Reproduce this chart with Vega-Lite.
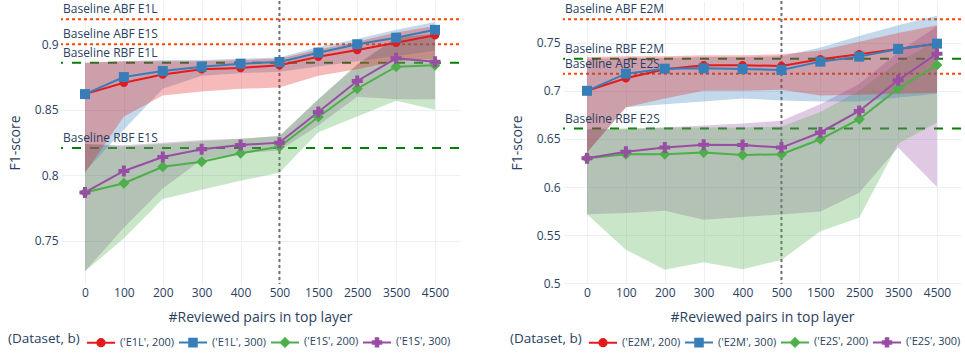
{
  "$schema": "https://vega.github.io/schema/vega-lite/v6.json",
  "background": "white",
  "padding": {"left": 8, "top": 0, "right": 0, "bottom": 0},
  "autosize": {"type": "pad"},
  "config": {
    "view": {"stroke": null},
    "font": "Open Sans",
    "axis": {
      "domain": false,
      "ticks": false,
      "grid": true,
      "gridColor": "#EBF0F8",
      "gridWidth": 1,
      "labelFont": "Open Sans",
      "labelFontSize": 12,
      "labelColor": "#2a3f5f",
      "titleFont": "Open Sans",
      "titleFontSize": 14,
      "titleFontWeight": "normal",
      "titleColor": "#2a3f5f"
    },
    "axisY": {"labelPadding": 3, "titlePadding": 12},
    "axisX": {"labelPadding": 3, "titlePadding": 12, "labelAngle": 0}
  },
  "datasets": {
    "series": [
      {"panel": "L", "s": "('E1L', 200)", "x": "0", "y": 0.862, "lo": 0.802, "hi": 0.886},
      {"panel": "L", "s": "('E1L', 200)", "x": "100", "y": 0.8707, "lo": 0.845, "hi": 0.887},
      {"panel": "L", "s": "('E1L', 200)", "x": "200", "y": 0.877, "lo": 0.861, "hi": 0.887},
      {"panel": "L", "s": "('E1L', 200)", "x": "300", "y": 0.881, "lo": 0.864, "hi": 0.887},
      {"panel": "L", "s": "('E1L', 200)", "x": "400", "y": 0.882, "lo": 0.866, "hi": 0.888},
      {"panel": "L", "s": "('E1L', 200)", "x": "500", "y": 0.884, "lo": 0.867, "hi": 0.889},
      {"panel": "L", "s": "('E1L', 200)", "x": "1500", "y": 0.8905, "lo": 0.876, "hi": 0.896},
      {"panel": "L", "s": "('E1L', 200)", "x": "2500", "y": 0.8957, "lo": 0.881, "hi": 0.902},
      {"panel": "L", "s": "('E1L', 200)", "x": "3500", "y": 0.9012, "lo": 0.887, "hi": 0.909},
      {"panel": "L", "s": "('E1L', 200)", "x": "4500", "y": 0.9069, "lo": 0.889, "hi": 0.914},
      {"panel": "L", "s": "('E1L', 300)", "x": "0", "y": 0.862, "lo": 0.803, "hi": 0.886},
      {"panel": "L", "s": "('E1L', 300)", "x": "100", "y": 0.875, "lo": 0.835, "hi": 0.887},
      {"panel": "L", "s": "('E1L', 300)", "x": "200", "y": 0.8796, "lo": 0.866, "hi": 0.888},
      {"panel": "L", "s": "('E1L', 300)", "x": "300", "y": 0.8829, "lo": 0.876, "hi": 0.888},
      {"panel": "L", "s": "('E1L', 300)", "x": "400", "y": 0.8852, "lo": 0.878, "hi": 0.889},
      {"panel": "L", "s": "('E1L', 300)", "x": "500", "y": 0.8865, "lo": 0.879, "hi": 0.89},
      {"panel": "L", "s": "('E1L', 300)", "x": "1500", "y": 0.8936, "lo": 0.883, "hi": 0.898},
      {"panel": "L", "s": "('E1L', 300)", "x": "2500", "y": 0.9, "lo": 0.887, "hi": 0.904},
      {"panel": "L", "s": "('E1L', 300)", "x": "3500", "y": 0.905, "lo": 0.891, "hi": 0.911},
      {"panel": "L", "s": "('E1L', 300)", "x": "4500", "y": 0.911, "lo": 0.895, "hi": 0.917},
      {"panel": "L", "s": "('E1S', 200)", "x": "0", "y": 0.787, "lo": 0.727, "hi": 0.824},
      {"panel": "L", "s": "('E1S', 200)", "x": "100", "y": 0.794, "lo": 0.752, "hi": 0.822},
      {"panel": "L", "s": "('E1S', 200)", "x": "200", "y": 0.8066, "lo": 0.782, "hi": 0.824},
      {"panel": "L", "s": "('E1S', 200)", "x": "300", "y": 0.8105, "lo": 0.789, "hi": 0.826},
      {"panel": "L", "s": "('E1S', 200)", "x": "400", "y": 0.8169, "lo": 0.796, "hi": 0.828},
      {"panel": "L", "s": "('E1S', 200)", "x": "500", "y": 0.8219, "lo": 0.802, "hi": 0.83},
      {"panel": "L", "s": "('E1S', 200)", "x": "1500", "y": 0.8445, "lo": 0.833, "hi": 0.858},
      {"panel": "L", "s": "('E1S', 200)", "x": "2500", "y": 0.8661, "lo": 0.845, "hi": 0.885},
      {"panel": "L", "s": "('E1S', 200)", "x": "3500", "y": 0.8829, "lo": 0.857, "hi": 0.905},
      {"panel": "L", "s": "('E1S', 200)", "x": "4500", "y": 0.884, "lo": 0.85, "hi": 0.908},
      {"panel": "L", "s": "('E1S', 300)", "x": "0", "y": 0.787, "lo": 0.727, "hi": 0.824},
      {"panel": "L", "s": "('E1S', 300)", "x": "100", "y": 0.8034, "lo": 0.76, "hi": 0.823},
      {"panel": "L", "s": "('E1S', 300)", "x": "200", "y": 0.814, "lo": 0.79, "hi": 0.825},
      {"panel": "L", "s": "('E1S', 300)", "x": "300", "y": 0.82, "lo": 0.812, "hi": 0.827},
      {"panel": "L", "s": "('E1S', 300)", "x": "400", "y": 0.8232, "lo": 0.817, "hi": 0.828},
      {"panel": "L", "s": "('E1S', 300)", "x": "500", "y": 0.825, "lo": 0.819, "hi": 0.83},
      {"panel": "L", "s": "('E1S', 300)", "x": "1500", "y": 0.8484, "lo": 0.838, "hi": 0.858},
      {"panel": "L", "s": "('E1S', 300)", "x": "2500", "y": 0.872, "lo": 0.86, "hi": 0.884},
      {"panel": "L", "s": "('E1S', 300)", "x": "3500", "y": 0.8893, "lo": 0.858, "hi": 0.905},
      {"panel": "L", "s": "('E1S', 300)", "x": "4500", "y": 0.8867, "lo": 0.858, "hi": 0.908},
      {"panel": "R", "s": "('E2M', 200)", "x": "0", "y": 0.7, "lo": 0.636, "hi": 0.735},
      {"panel": "R", "s": "('E2M', 200)", "x": "100", "y": 0.713, "lo": 0.683, "hi": 0.736},
      {"panel": "R", "s": "('E2M', 200)", "x": "200", "y": 0.7224, "lo": 0.692, "hi": 0.736},
      {"panel": "R", "s": "('E2M', 200)", "x": "300", "y": 0.7266, "lo": 0.7, "hi": 0.737},
      {"panel": "R", "s": "('E2M', 200)", "x": "400", "y": 0.7266, "lo": 0.7, "hi": 0.737},
      {"panel": "R", "s": "('E2M', 200)", "x": "500", "y": 0.7258, "lo": 0.701, "hi": 0.738},
      {"panel": "R", "s": "('E2M', 200)", "x": "1500", "y": 0.7328, "lo": 0.695, "hi": 0.742},
      {"panel": "R", "s": "('E2M', 200)", "x": "2500", "y": 0.738, "lo": 0.696, "hi": 0.751},
      {"panel": "R", "s": "('E2M', 200)", "x": "3500", "y": 0.7435, "lo": 0.697, "hi": 0.76},
      {"panel": "R", "s": "('E2M', 200)", "x": "4500", "y": 0.749, "lo": 0.698, "hi": 0.768},
      {"panel": "R", "s": "('E2M', 300)", "x": "0", "y": 0.7, "lo": 0.636, "hi": 0.733},
      {"panel": "R", "s": "('E2M', 300)", "x": "100", "y": 0.7178, "lo": 0.683, "hi": 0.734},
      {"panel": "R", "s": "('E2M', 300)", "x": "200", "y": 0.723, "lo": 0.686, "hi": 0.734},
      {"panel": "R", "s": "('E2M', 300)", "x": "300", "y": 0.7234, "lo": 0.689, "hi": 0.735},
      {"panel": "R", "s": "('E2M', 300)", "x": "400", "y": 0.7227, "lo": 0.692, "hi": 0.735},
      {"panel": "R", "s": "('E2M', 300)", "x": "500", "y": 0.7217, "lo": 0.69, "hi": 0.736},
      {"panel": "R", "s": "('E2M', 300)", "x": "1500", "y": 0.7303, "lo": 0.689, "hi": 0.745},
      {"panel": "R", "s": "('E2M', 300)", "x": "2500", "y": 0.7355, "lo": 0.689, "hi": 0.757},
      {"panel": "R", "s": "('E2M', 300)", "x": "3500", "y": 0.7435, "lo": 0.693, "hi": 0.768},
      {"panel": "R", "s": "('E2M', 300)", "x": "4500", "y": 0.749, "lo": 0.697, "hi": 0.778},
      {"panel": "R", "s": "('E2S', 200)", "x": "0", "y": 0.63, "lo": 0.5717, "hi": 0.66},
      {"panel": "R", "s": "('E2S', 200)", "x": "100", "y": 0.6342, "lo": 0.535, "hi": 0.661},
      {"panel": "R", "s": "('E2S', 200)", "x": "200", "y": 0.6342, "lo": 0.514, "hi": 0.662},
      {"panel": "R", "s": "('E2S', 200)", "x": "300", "y": 0.636, "lo": 0.522, "hi": 0.662},
      {"panel": "R", "s": "('E2S', 200)", "x": "400", "y": 0.6332, "lo": 0.5146, "hi": 0.662},
      {"panel": "R", "s": "('E2S', 200)", "x": "500", "y": 0.6342, "lo": 0.5243, "hi": 0.663},
      {"panel": "R", "s": "('E2S', 200)", "x": "1500", "y": 0.6497, "lo": 0.554, "hi": 0.678},
      {"panel": "R", "s": "('E2S', 200)", "x": "2500", "y": 0.6705, "lo": 0.568, "hi": 0.7},
      {"panel": "R", "s": "('E2S', 200)", "x": "3500", "y": 0.7023, "lo": 0.645, "hi": 0.73},
      {"panel": "R", "s": "('E2S', 200)", "x": "4500", "y": 0.7269, "lo": 0.667, "hi": 0.752},
      {"panel": "R", "s": "('E2S', 300)", "x": "0", "y": 0.63, "lo": 0.5717, "hi": 0.66},
      {"panel": "R", "s": "('E2S', 300)", "x": "100", "y": 0.6366, "lo": 0.573, "hi": 0.66},
      {"panel": "R", "s": "('E2S', 300)", "x": "200", "y": 0.641, "lo": 0.5754, "hi": 0.662},
      {"panel": "R", "s": "('E2S', 300)", "x": "300", "y": 0.6439, "lo": 0.566, "hi": 0.664},
      {"panel": "R", "s": "('E2S', 300)", "x": "400", "y": 0.6436, "lo": 0.5688, "hi": 0.666},
      {"panel": "R", "s": "('E2S', 300)", "x": "500", "y": 0.641, "lo": 0.5716, "hi": 0.669},
      {"panel": "R", "s": "('E2S', 300)", "x": "1500", "y": 0.6567, "lo": 0.5747, "hi": 0.686},
      {"panel": "R", "s": "('E2S', 300)", "x": "2500", "y": 0.6791, "lo": 0.594, "hi": 0.707},
      {"panel": "R", "s": "('E2S', 300)", "x": "3500", "y": 0.711, "lo": 0.641, "hi": 0.74},
      {"panel": "R", "s": "('E2S', 300)", "x": "4500", "y": 0.7386, "lo": 0.6, "hi": 0.767}
    ],
    "baselines": [
      {"panel": "L", "kind": "ABF", "label": "Baseline ABF E1L", "value": 0.919},
      {"panel": "L", "kind": "ABF", "label": "Baseline ABF E1S", "value": 0.9},
      {"panel": "L", "kind": "RBF", "label": "Baseline RBF E1L", "value": 0.886},
      {"panel": "L", "kind": "RBF", "label": "Baseline RBF E1S", "value": 0.821},
      {"panel": "R", "kind": "ABF", "label": "Baseline ABF E2M", "value": 0.7743},
      {"panel": "R", "kind": "RBF", "label": "Baseline RBF E2M", "value": 0.7334},
      {"panel": "R", "kind": "ABF", "label": "Baseline ABF E2S", "value": 0.7178},
      {"panel": "R", "kind": "RBF", "label": "Baseline RBF E2S", "value": 0.6608}
    ],
    "cutoff": [{"x": "500"}]
  },
  "bounds": "flush",
  "spacing": 104,
  "resolve": {
    "scale": {"x": "independent", "y": "independent", "color": "independent", "shape": "independent"},
    "legend": {"color": "independent"}
  },
  "hconcat": [
    {
      "width": 398,
      "height": 283,
      "layer": [
        {
          "data": {"name": "baselines"},
          "transform": [{"filter": "datum.panel == 'L' && datum.kind == 'ABF'"}],
          "mark": {"type": "rule", "color": "#FF4500", "strokeWidth": 2, "strokeDash": [3, 3]},
          "encoding": {"y": {"field": "value", "type": "quantitative", "scale": {"domain": [0.7172, 0.933], "nice": false, "zero": false}, "axis": {"title": "F1-score", "values": [0.75, 0.8, 0.85, 0.9], "format": ".2~f"}}}
        },
        {
          "data": {"name": "baselines"},
          "transform": [{"filter": "datum.panel == 'L' && datum.kind == 'RBF'"}],
          "mark": {"type": "rule", "color": "#008000", "strokeWidth": 2, "strokeDash": [9, 9]},
          "encoding": {"y": {"field": "value", "type": "quantitative"}}
        },
        {
          "data": {"name": "cutoff"},
          "mark": {"type": "rule", "color": "#707070", "strokeWidth": 2, "strokeDash": [3, 3]},
          "encoding": {
            "x": {"field": "x", "type": "ordinal", "scale": {"type": "point", "domain": ["0", "100", "200", "300", "400", "500", "1500", "2500", "3500", "4500"], "padding": 0.617}, "axis": {"title": "#Reviewed pairs in top layer"}}
          }
        },
        {
          "data": {"name": "series"},
          "transform": [{"filter": "datum.panel == 'L' && datum.s == \"('E1S', 300)\""}],
          "mark": {"type": "area", "opacity": 0.3},
          "encoding": {
            "x": {"field": "x", "type": "ordinal"},
            "y": {"field": "lo", "type": "quantitative", "stack": null},
            "y2": {"field": "hi"},
            "color": {"field": "s", "type": "nominal", "scale": {"domain": ["('E1L', 200)", "('E1L', 300)", "('E1S', 200)", "('E1S', 300)"], "range": ["#e41a1c", "#377eb8", "#4daf4a", "#984ea3"]}}
          }
        },
        {
          "data": {"name": "series"},
          "transform": [{"filter": "datum.panel == 'L' && datum.s == \"('E1S', 200)\""}],
          "mark": {"type": "area", "opacity": 0.3},
          "encoding": {
            "x": {"field": "x", "type": "ordinal"},
            "y": {"field": "lo", "type": "quantitative", "stack": null},
            "y2": {"field": "hi"},
            "color": {"field": "s", "type": "nominal"}
          }
        },
        {
          "data": {"name": "series"},
          "transform": [{"filter": "datum.panel == 'L' && datum.s == \"('E1L', 300)\""}],
          "mark": {"type": "area", "opacity": 0.3},
          "encoding": {
            "x": {"field": "x", "type": "ordinal"},
            "y": {"field": "lo", "type": "quantitative", "stack": null},
            "y2": {"field": "hi"},
            "color": {"field": "s", "type": "nominal"}
          }
        },
        {
          "data": {"name": "series"},
          "transform": [{"filter": "datum.panel == 'L' && datum.s == \"('E1L', 200)\""}],
          "mark": {"type": "area", "opacity": 0.3},
          "encoding": {
            "x": {"field": "x", "type": "ordinal"},
            "y": {"field": "lo", "type": "quantitative", "stack": null},
            "y2": {"field": "hi"},
            "color": {"field": "s", "type": "nominal"}
          }
        },
        {
          "data": {"name": "series"},
          "transform": [{"filter": "datum.panel == 'L'"}],
          "mark": {"type": "line", "strokeWidth": 2},
          "encoding": {
            "x": {"field": "x", "type": "ordinal"},
            "y": {"field": "y", "type": "quantitative"},
            "color": {"field": "s", "type": "nominal"}
          }
        },
        {
          "data": {"name": "series"},
          "transform": [{"filter": "datum.panel == 'L'"}],
          "mark": {"type": "point", "filled": true, "opacity": 1, "size": 100, "strokeWidth": 0},
          "encoding": {
            "x": {"field": "x", "type": "ordinal"},
            "y": {"field": "y", "type": "quantitative"},
            "shape": {"field": "s", "type": "nominal", "legend": null, "scale": {"range": [
              "M0.85,0A0.85,0.85,0,1,1,-0.85,0A0.85,0.85,0,1,1,0.85,0Z",
              "M-1,-1H1V1H-1Z",
              "M0,-1.1L1.1,0L0,1.1L-1.1,0Z",
              "M-0.4,-1.1H0.4V-0.4H1.1V0.4H0.4V1.1H-0.4V0.4H-1.1V-0.4H-0.4Z"
            ]}},
            "color": {"field": "s", "type": "nominal", "legend": {
              "title": "(Dataset, b)",
              "orient": "none",
              "legendX": -53,
              "legendY": 326,
              "direction": "horizontal",
              "columns": 4,
              "titleOrient": "left",
              "titleAnchor": "middle",
              "titleBaseline": "middle",
              "titlePadding": 6,
              "titleFont": "Open Sans",
              "titleFontSize": 13.5,
              "titleFontWeight": "normal",
              "titleColor": "#2a3f5f",
              "labelFont": "Open Sans",
              "labelFontSize": 11,
              "labelColor": "#2a3f5f",
              "labelOffset": 4,
              "columnPadding": 0,
              "symbolSize": 784,
              "symbolStrokeWidth": 2,
              "symbolOpacity": 1,
              "encode": {"symbols": {"update": {
                "shape": {"signal": "indexof(datum.value,'S')>=0 ? (indexof(datum.value,'300')>=0 ? 'M-1,0H1M-0.09,-0.3H0.09V-0.09H0.3V0.09H0.09V0.3H-0.09V0.09H-0.3V-0.09H-0.09Z' : 'M-1,0H1M0,-0.3L0.3,0L0,0.3L-0.3,0Z') : (indexof(datum.value,'300')>=0 ? 'M-1,0H1M-0.27,-0.27H0.27V0.27H-0.27Z' : 'M-1,0H1M0.26,0A0.26,0.26,0,1,1,-0.26,0A0.26,0.26,0,1,1,0.26,0Z')"},
                "fill": {"signal": "indexof(datum.value,'S')>=0 ? (indexof(datum.value,'300')>=0 ? '#984ea3' : '#4daf4a') : (indexof(datum.value,'300')>=0 ? '#377eb8' : '#e41a1c')"},
                "stroke": {"signal": "indexof(datum.value,'S')>=0 ? (indexof(datum.value,'300')>=0 ? '#984ea3' : '#4daf4a') : (indexof(datum.value,'300')>=0 ? '#377eb8' : '#e41a1c')"},
                "opacity": {"value": 1}
              }}}
            }}
          }
        },
        {
          "data": {"name": "baselines"},
          "transform": [{"filter": "datum.panel == 'L'"}],
          "mark": {"type": "text", "align": "left", "baseline": "alphabetic", "dx": -22, "dy": -6, "fontSize": 12, "font": "Open Sans", "color": "#2a3f5f"},
          "encoding": {
            "x": {"datum": "0", "type": "ordinal"},
            "y": {"field": "value", "type": "quantitative"},
            "text": {"field": "label"}
          }
        }
      ]
    },
    {
      "width": 398,
      "height": 283,
      "layer": [
        {
          "data": {"name": "baselines"},
          "transform": [{"filter": "datum.panel == 'R' && datum.kind == 'ABF'"}],
          "mark": {"type": "rule", "color": "#FF4500", "strokeWidth": 2, "strokeDash": [3, 3]},
          "encoding": {"y": {"field": "value", "type": "quantitative", "scale": {"domain": [0.4993, 0.7933], "nice": false, "zero": false}, "axis": {"title": "F1-score", "values": [0.5, 0.55, 0.6, 0.65, 0.7, 0.75], "format": ".2~f"}}}
        },
        {
          "data": {"name": "baselines"},
          "transform": [{"filter": "datum.panel == 'R' && datum.kind == 'RBF'"}],
          "mark": {"type": "rule", "color": "#008000", "strokeWidth": 2, "strokeDash": [9, 9]},
          "encoding": {"y": {"field": "value", "type": "quantitative"}}
        },
        {
          "data": {"name": "cutoff"},
          "mark": {"type": "rule", "color": "#707070", "strokeWidth": 2, "strokeDash": [3, 3]},
          "encoding": {
            "x": {"field": "x", "type": "ordinal", "scale": {"type": "point", "domain": ["0", "100", "200", "300", "400", "500", "1500", "2500", "3500", "4500"], "padding": 0.617}, "axis": {"title": "#Reviewed pairs in top layer"}}
          }
        },
        {
          "data": {"name": "series"},
          "transform": [{"filter": "datum.panel == 'R' && datum.s == \"('E2S', 300)\""}],
          "mark": {"type": "area", "opacity": 0.3},
          "encoding": {
            "x": {"field": "x", "type": "ordinal"},
            "y": {"field": "lo", "type": "quantitative", "stack": null},
            "y2": {"field": "hi"},
            "color": {"field": "s", "type": "nominal", "scale": {"domain": ["('E2M', 200)", "('E2M', 300)", "('E2S', 200)", "('E2S', 300)"], "range": ["#e41a1c", "#377eb8", "#4daf4a", "#984ea3"]}}
          }
        },
        {
          "data": {"name": "series"},
          "transform": [{"filter": "datum.panel == 'R' && datum.s == \"('E2S', 200)\""}],
          "mark": {"type": "area", "opacity": 0.3},
          "encoding": {
            "x": {"field": "x", "type": "ordinal"},
            "y": {"field": "lo", "type": "quantitative", "stack": null},
            "y2": {"field": "hi"},
            "color": {"field": "s", "type": "nominal"}
          }
        },
        {
          "data": {"name": "series"},
          "transform": [{"filter": "datum.panel == 'R' && datum.s == \"('E2M', 300)\""}],
          "mark": {"type": "area", "opacity": 0.3},
          "encoding": {
            "x": {"field": "x", "type": "ordinal"},
            "y": {"field": "lo", "type": "quantitative", "stack": null},
            "y2": {"field": "hi"},
            "color": {"field": "s", "type": "nominal"}
          }
        },
        {
          "data": {"name": "series"},
          "transform": [{"filter": "datum.panel == 'R' && datum.s == \"('E2M', 200)\""}],
          "mark": {"type": "area", "opacity": 0.3},
          "encoding": {
            "x": {"field": "x", "type": "ordinal"},
            "y": {"field": "lo", "type": "quantitative", "stack": null},
            "y2": {"field": "hi"},
            "color": {"field": "s", "type": "nominal"}
          }
        },
        {
          "data": {"name": "series"},
          "transform": [{"filter": "datum.panel == 'R'"}],
          "mark": {"type": "line", "strokeWidth": 2},
          "encoding": {
            "x": {"field": "x", "type": "ordinal"},
            "y": {"field": "y", "type": "quantitative"},
            "color": {"field": "s", "type": "nominal"}
          }
        },
        {
          "data": {"name": "series"},
          "transform": [{"filter": "datum.panel == 'R'"}],
          "mark": {"type": "point", "filled": true, "opacity": 1, "size": 100, "strokeWidth": 0},
          "encoding": {
            "x": {"field": "x", "type": "ordinal"},
            "y": {"field": "y", "type": "quantitative"},
            "shape": {"field": "s", "type": "nominal", "legend": null, "scale": {"range": [
              "M0.85,0A0.85,0.85,0,1,1,-0.85,0A0.85,0.85,0,1,1,0.85,0Z",
              "M-1,-1H1V1H-1Z",
              "M0,-1.1L1.1,0L0,1.1L-1.1,0Z",
              "M-0.4,-1.1H0.4V-0.4H1.1V0.4H0.4V1.1H-0.4V0.4H-1.1V-0.4H-0.4Z"
            ]}},
            "color": {"field": "s", "type": "nominal", "legend": {
              "title": "(Dataset, b)",
              "orient": "none",
              "legendX": -53,
              "legendY": 326,
              "direction": "horizontal",
              "columns": 4,
              "titleOrient": "left",
              "titleAnchor": "middle",
              "titleBaseline": "middle",
              "titlePadding": 6,
              "titleFont": "Open Sans",
              "titleFontSize": 13.5,
              "titleFontWeight": "normal",
              "titleColor": "#2a3f5f",
              "labelFont": "Open Sans",
              "labelFontSize": 11,
              "labelColor": "#2a3f5f",
              "labelOffset": 4,
              "columnPadding": 0,
              "symbolSize": 784,
              "symbolStrokeWidth": 2,
              "symbolOpacity": 1,
              "encode": {"symbols": {"update": {
                "shape": {"signal": "indexof(datum.value,'S')>=0 ? (indexof(datum.value,'300')>=0 ? 'M-1,0H1M-0.09,-0.3H0.09V-0.09H0.3V0.09H0.09V0.3H-0.09V0.09H-0.3V-0.09H-0.09Z' : 'M-1,0H1M0,-0.3L0.3,0L0,0.3L-0.3,0Z') : (indexof(datum.value,'300')>=0 ? 'M-1,0H1M-0.27,-0.27H0.27V0.27H-0.27Z' : 'M-1,0H1M0.26,0A0.26,0.26,0,1,1,-0.26,0A0.26,0.26,0,1,1,0.26,0Z')"},
                "fill": {"signal": "indexof(datum.value,'S')>=0 ? (indexof(datum.value,'300')>=0 ? '#984ea3' : '#4daf4a') : (indexof(datum.value,'300')>=0 ? '#377eb8' : '#e41a1c')"},
                "stroke": {"signal": "indexof(datum.value,'S')>=0 ? (indexof(datum.value,'300')>=0 ? '#984ea3' : '#4daf4a') : (indexof(datum.value,'300')>=0 ? '#377eb8' : '#e41a1c')"},
                "opacity": {"value": 1}
              }}}
            }}
          }
        },
        {
          "data": {"name": "baselines"},
          "transform": [{"filter": "datum.panel == 'R'"}],
          "mark": {"type": "text", "align": "left", "baseline": "alphabetic", "dx": -22, "dy": -6, "fontSize": 12, "font": "Open Sans", "color": "#2a3f5f"},
          "encoding": {
            "x": {"datum": "0", "type": "ordinal"},
            "y": {"field": "value", "type": "quantitative"},
            "text": {"field": "label"}
          }
        }
      ]
    }
  ]
}
